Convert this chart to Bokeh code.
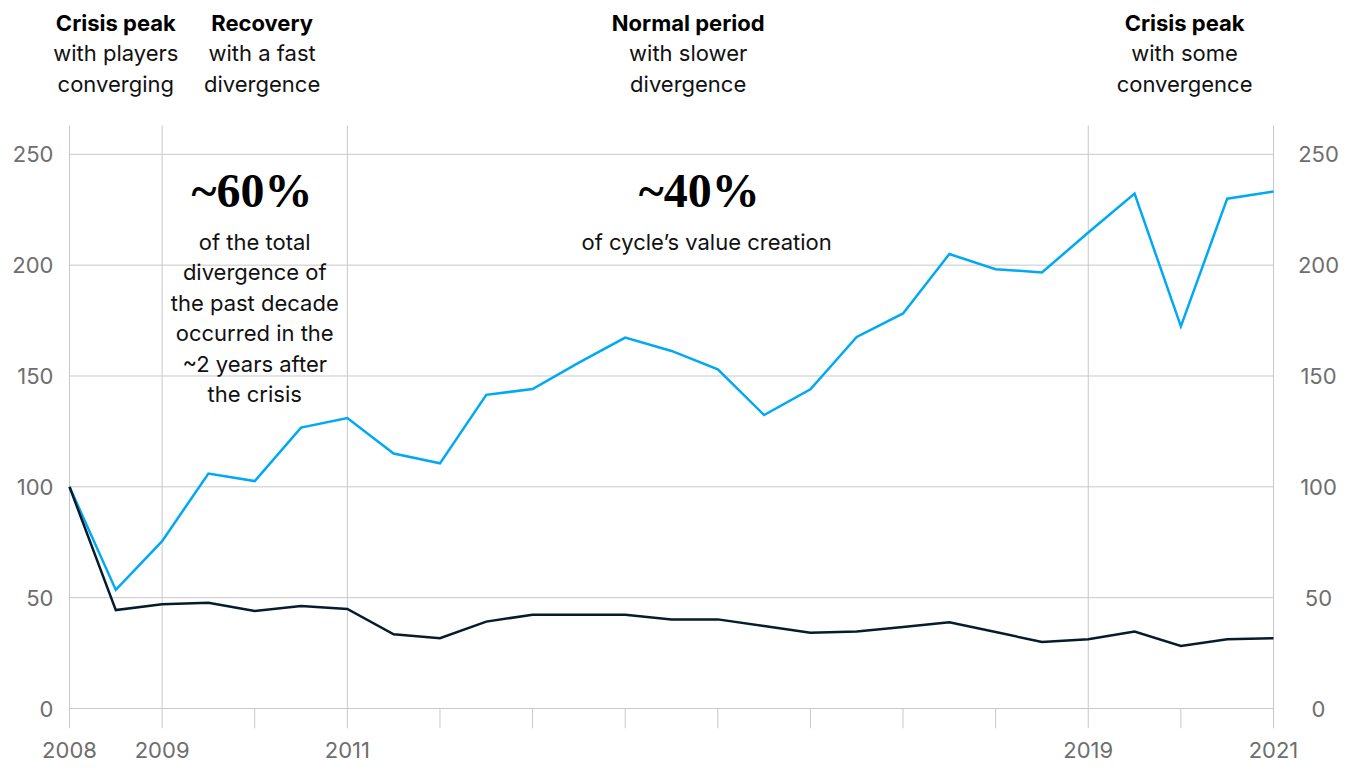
from bokeh.plotting import figure
from bokeh.models import FixedTicker, Range1d
from bokeh.core.properties import value
from bokeh.embed import file_html
from bokeh.resources import INLINE

# ---- data (semi-annual index, 2008 = 100) ----
periods = [2008.0, 2008.5, 2009.0, 2009.5, 2010.0, 2010.5, 2011.0, 2011.5, 2012.0,
           2012.5, 2013.0, 2013.5, 2014.0, 2014.5, 2015.0, 2015.5, 2016.0, 2016.5,
           2017.0, 2017.5, 2018.0, 2018.5, 2019.0, 2019.5, 2020.0, 2020.5, 2021.0]
top_players = [100, 53.5, 75.5, 106, 102.6, 126.7, 131, 115, 110.6, 141.5, 144.1, 156,
               167.3, 161.3, 153, 132.4, 144, 167.6, 178.2, 205, 198.2, 196.7, 214.7,
               232.3, 172.4, 230, 233.2]
bottom_players = [100, 44.4, 47, 47.7, 44, 46.2, 44.9, 33.5, 31.7, 39.2, 42.3, 42.3,
                  42.3, 40.2, 40.2, 37.2, 34.2, 34.7, 36.8, 38.9, 34.5, 30, 31.2, 34.7,
                  28.2, 31.2, 31.7]
y_ticks = [0, 50, 100, 150, 200, 250]
y_tick_labels = ["0", "50", "100", "150", "200", "250"]
year_ticks = [2008, 2009, 2011, 2019, 2021]
minor_years = [2010, 2012, 2013, 2014, 2015, 2016, 2017, 2018, 2020]

phase_titles = ["Crisis peak", "Recovery", "Normal period", "Crisis peak"]
phase_line2 = ["with players", "with a fast", "with slower", "with some"]
phase_line3 = ["converging", "divergence", "divergence", "convergence"]
phase_x = [2008.5, 2010.08, 2014.68, 2020.04]

big_numbers = ["~60%", "~40%"]
big_x = [2009.97, 2014.80]
note_left = ["of the total", "divergence of", "the past decade", "occurred in the",
             "~2 years after", "the crisis"]
note_right = ["of cycle\u2019s value creation"]

# ---- layout constants (pixels) ----
SANS = value("Inter")
GRID = "#c8c8c8"
TICK_TXT = "#6e6e6e"
X0, X1 = 2008, 2021
PX_PER_YEAR = 1204 / 13.0
PX_PER_UNIT = 583 / 263.0
LEFT_PAD, RIGHT_PAD = 69, 70
TOP_PAD, TICK_LEN = 125, 20
Y_TOP = 263.0
Y_BOTTOM = -TICK_LEN / PX_PER_UNIT
FRAME_H = TOP_PAD + 583 + TICK_LEN


def py(px_from_top):
    """pixel row (from top of canvas) -> data y"""
    return (TOP_PAD + 583 - px_from_top) / PX_PER_UNIT


p = figure(frame_width=LEFT_PAD + 1204 + RIGHT_PAD, frame_height=FRAME_H,
           min_border_left=0, min_border_top=0, min_border_right=0, min_border_bottom=41,
           x_range=Range1d(X0 - LEFT_PAD / PX_PER_YEAR, X1 + RIGHT_PAD / PX_PER_YEAR),
           y_range=Range1d(Y_BOTTOM, Y_BOTTOM + FRAME_H / PX_PER_UNIT),
           y_axis_type=None, output_backend="svg", toolbar_location=None)
p.outline_line_color = None
p.grid.visible = False

# grid lines
p.segment(x0=[X0] * len(y_ticks), x1=[X1] * len(y_ticks), y0=y_ticks, y1=y_ticks,
          line_color=GRID, line_width=1)
p.segment(x0=year_ticks, x1=year_ticks, y0=[Y_BOTTOM] * len(year_ticks),
          y1=[Y_TOP] * len(year_ticks), line_color=GRID, line_width=1)
# small year ticks below the zero line
p.segment(x0=minor_years, x1=minor_years, y0=[Y_BOTTOM] * len(minor_years),
          y1=[0] * len(minor_years), line_color=GRID, line_width=1)

# x axis (labels only)
p.xaxis.ticker = FixedTicker(ticks=year_ticks)
p.xaxis.axis_line_color = None
p.xaxis.major_tick_line_color = None
p.xaxis.minor_tick_line_color = None
p.xaxis.major_tick_in = 0
p.xaxis.major_tick_out = 0
p.xaxis.major_label_standoff = 13
p.xaxis.major_label_text_font = "Inter"
p.xaxis.major_label_text_font_size = "22px"
p.xaxis.major_label_text_color = TICK_TXT

# value labels, left (right-aligned) and right (centred)
p.text(x=[X0 - 16 / PX_PER_YEAR] * len(y_ticks), y=y_ticks, text=y_tick_labels,
       text_align="right", text_baseline="middle", text_font=SANS,
       text_font_size="22px", text_color=TICK_TXT)
p.text(x=[X1 + 45 / PX_PER_YEAR] * len(y_ticks), y=y_ticks, text=y_tick_labels,
       text_align="center", text_baseline="middle", text_font=SANS,
       text_font_size="22px", text_color=TICK_TXT)

# lines
p.line(periods, top_players, line_color="#00A9F4", line_width=2.5, line_join="miter")
p.line(periods, bottom_players, line_color="#051C2C", line_width=2.5, line_join="miter")

# phase headings
p.text(x=phase_x, y=[py(22)] * 4, text=phase_titles, text_align="center",
       text_baseline="alphabetic", text_font=SANS, text_font_style="bold",
       text_font_size="22px", text_color="#000000")
p.text(x=phase_x, y=[py(52.5)] * 4, text=phase_line2, text_align="center",
       text_baseline="alphabetic", text_font=SANS, text_font_size="22px",
       text_color="#111111")
p.text(x=phase_x, y=[py(83)] * 4, text=phase_line3, text_align="center",
       text_baseline="alphabetic", text_font=SANS, text_font_size="22px",
       text_color="#111111")

# big numbers and notes
p.text(x=big_x, y=[py(190)] * 2, text=big_numbers, text_align="center",
       text_baseline="alphabetic", text_font=value("Liberation Serif"),
       text_font_style="bold", text_font_size="48px", text_color="#000000")

note_px = [241.5, 271.5, 302.5, 332.5, 363, 393]
p.text(x=[2010.0] * len(note_left), y=[py(v) for v in note_px], text=note_left,
       text_align="center", text_baseline="alphabetic", text_font=SANS,
       text_font_size="22px", text_color="#111111")
p.text(x=[2014.88], y=[py(note_px[0])], text=note_right, text_align="center",
       text_baseline="alphabetic", text_font=SANS, text_font_size="22px",
       text_color="#111111")

open("out.html", "w").write(file_html(p, INLINE))
